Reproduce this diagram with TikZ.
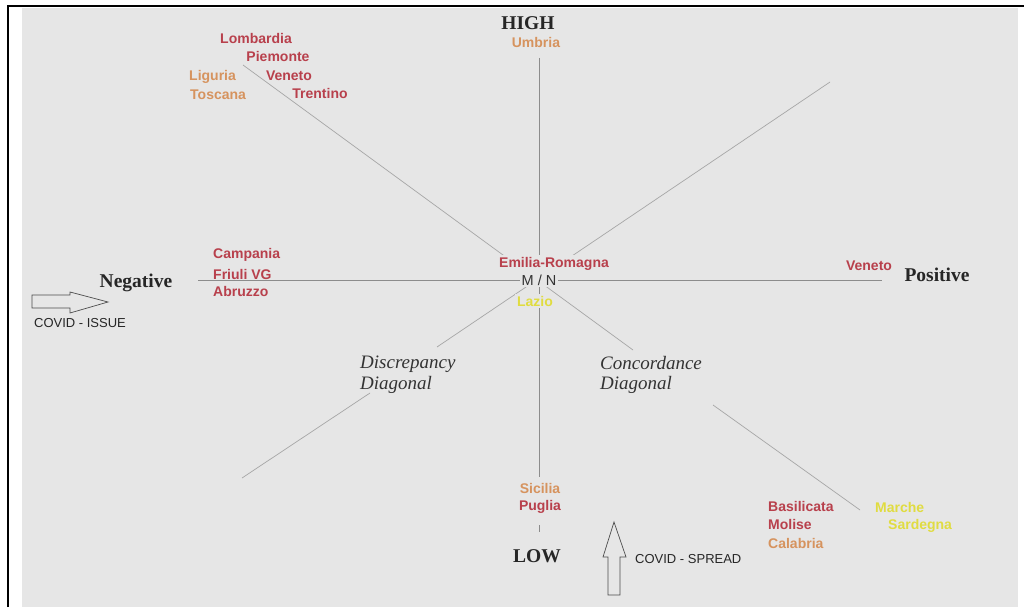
\documentclass[tikz,border=0pt]{standalone}
\usepackage{fontspec}
\setmainfont{Liberation Serif}
\setsansfont{Liberation Sans}
\usetikzlibrary{positioning}
\definecolor{panel}{HTML}{E6E6E6}
\definecolor{regred}{HTML}{B8404C}
\definecolor{regorange}{HTML}{D6935E}
\definecolor{regyellow}{HTML}{E0DC40}
\definecolor{axisgray}{HTML}{8C8C8C}

\begin{document}
\begin{tikzpicture} [x=1pt, y=-1pt,
    region/.style={font=\sffamily\bfseries\fontsize{14}{16}\selectfont, inner sep=1pt},
    redreg/.style={region, text=regred},
    orangereg/.style={region, text=regorange},
    yellowreg/.style={region, text=regyellow},
    cover/.style={fill=panel, inner sep=2pt},
    pole/.style={font=\bfseries\fontsize{19.5}{22}\selectfont, text=black!85, inner sep=1pt},
    diagname/.style={font=\itshape\fontsize{19}{20.5}\selectfont, align=left, anchor=north west, inner sep=0pt, text=black!80},
    covid/.style={font=\sffamily\fontsize{13}{15}\selectfont, text=black!85, inner sep=1pt},
    axis/.style={draw=axisgray, line width=1pt},
    diag/.style={draw=black!35, line width=0.7pt},
    hollow/.style={draw=black!70, line width=0.7pt}]

\useasboundingbox (0,0) rectangle (1024,607);
\fill [panel] (22,8) rectangle (1018,607);
\draw [line width=2pt] (8,607) -- (8,6.5) -- (1024,6.5);

% axes
\coordinate (vtop) at (539,58);
\coordinate (vlow) at (539,477);
\coordinate (ttop) at (539,525);
\coordinate (tbot) at (539,532);
\coordinate (hleft) at (198,280);
\coordinate (hright) at (882,280);
\draw [axis] (vtop) -- (vlow);
\draw [axis] (ttop) -- (tbot);
\draw [axis] (hleft) -- (hright);

% diagonals
\coordinate (nw) at (243,65);
\coordinate (c1) at (633,350);
\coordinate (c2) at (713,405);
\coordinate (se) at (860,510);
\coordinate (ne) at (830,82);
\coordinate (d1) at (437,347);
\coordinate (d2) at (370,393);
\coordinate (sw) at (242,478);
\draw [diag] (nw) -- (c1);
\draw [diag] (c2) -- (se);
\draw [diag] (ne) -- (d1);
\draw [diag] (d2) -- (sw);

% poles
\node [pole] (high) at (528,23) {HIGH};
\node [pole] (low) at (537,556) {LOW};
\node [pole] (negative) at (136,283) {Negative};
\node [pole] (positive) at (937,275) {Positive};

% top left
\node [redreg] (lombardia) at (256,38) {Lombardia};
\node [redreg] (piemonte) at (278,56) {Piemonte};
\node [redreg] (venetoN) at (289,76) {Veneto};
\node [redreg] (trentino) at (320,93) {Trentino};
\node [orangereg, anchor=west] (liguria) at (188,77) {Liguria};
\node [orangereg, anchor=west] (toscana) at (189,95) {Toscana};
\node [orangereg] (umbria) at (536,42) {Umbria};

% left
\node [redreg, anchor=west] (campania) at (212,255) {Campania};
\node [redreg, anchor=west] (friuli) at (212,274) {Friuli VG};
\node [redreg, anchor=west] (abruzzo) at (212,291) {Abruzzo};

% centre
\node [redreg, cover] (emilia) at (554,264) {Emilia-Romagna};
\node [cover, font=\sffamily\fontsize{14.5}{16}\selectfont, text=black!80] (mn) at (539,280) {M / N};
\node [yellowreg, cover] (lazio) at (535,301) {Lazio};
\node [redreg] (venetoE) at (869,266) {Veneto};

% bottom
\node [orangereg] (sicilia) at (540,488) {Sicilia};
\node [redreg] (puglia) at (540,507) {Puglia};
\node [redreg, anchor=west] (basilicata) at (767,506) {Basilicata};
\node [redreg, anchor=west] (molise) at (767,524) {Molise};
\node [orangereg, anchor=west] (calabria) at (767,543) {Calabria};
\node [yellowreg, anchor=west] (marche) at (874,507) {Marche};
\node [yellowreg, anchor=west] (sardegna) at (887,526) {Sardegna};

% diagonal names
\node [diagname] (discrepancy) at (360,356) {Discrepancy\\Diagonal};
\node [diagname] (concordance) at (600,356) {Concordance\\Diagonal};

% covid arrows
\draw [hollow] (32,295) -- (70,295) -- (70,292) -- (108,302) -- (70,313)
    -- (70,308) -- (32,308) -- cycle;
\node [covid] (issue) at (80,323) {COVID - ISSUE};
\draw [hollow] (608,595) -- (608,557) -- (603,557) -- (614,522) -- (626,557)
    -- (620,557) -- (620,595) -- cycle;
\node [covid, anchor=west] (spread) at (634,559) {COVID - SPREAD};

\end{tikzpicture}
\end{document}
